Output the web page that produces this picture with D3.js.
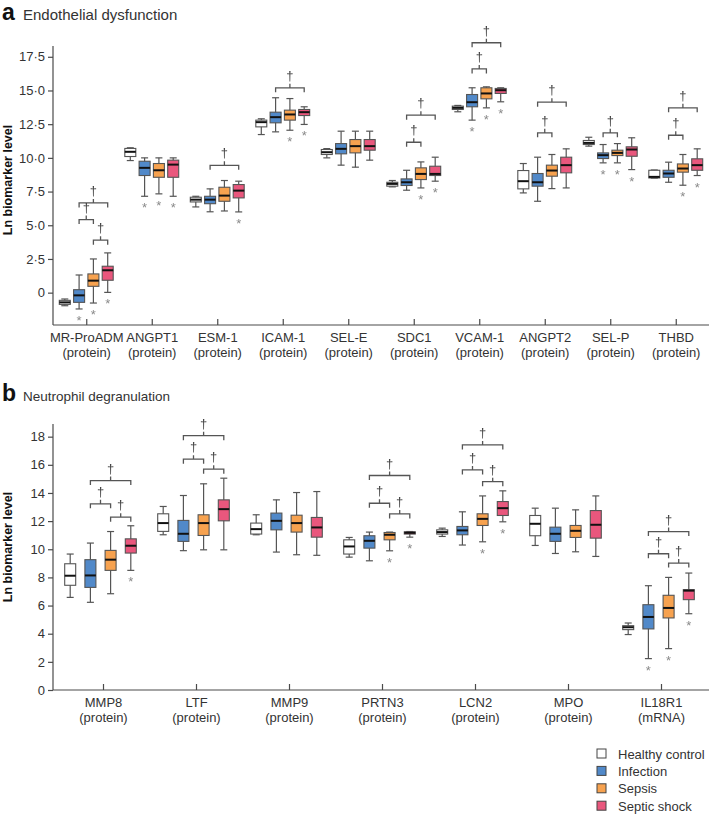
<!DOCTYPE html>
<html><head><meta charset="utf-8">
<script src="https://cdn.jsdelivr.net/npm/d3@7/dist/d3.min.js"></script>
<style>
body{margin:0;background:#fff;}
svg{display:block;font-family:"Liberation Sans",Arial,sans-serif;}
.dag,.ast{filter:grayscale(1);}
</style></head>
<body><svg id="c" width="709" height="814"></svg>
<script>
// ---------- shared ----------
const groups = ["Healthy control", "Infection", "Sepsis", "Septic shock"];
const groupColors = ["#ffffff", "#5189c9", "#f7a24f", "#e9577d"];

// ---------- panel a: Endothelial dysfunction ----------
const catsA = ["MR-ProADM","ANGPT1","ESM-1","ICAM-1","SEL-E","SDC1","VCAM-1","ANGPT2","SEL-P","THBD"];
const subA = ["(protein)","(protein)","(protein)","(protein)","(protein)","(protein)","(protein)","(protein)","(protein)","(protein)"];
const ticksA = [0, 2.5, 5, 7.5, 10, 12.5, 15, 17.5];
// each entry: [min, q1, median, q3, max]
const healthyA = [
  [-0.97,-0.87,-0.72,-0.57,-0.47],
  [9.8,10.1,10.45,10.7,10.75],
  [6.36,6.73,6.9,7.08,7.15],
  [11.73,12.3,12.65,12.8,12.9],
  [10.0,10.25,10.42,10.62,10.69],
  [7.85,7.9,8.07,8.19,8.32],
  [13.42,13.59,13.71,13.84,13.89],
  [7.4,7.7,8.27,9.06,9.58],
  [10.87,10.99,11.11,11.29,11.53],
  [8.5,8.51,8.59,9.08,9.1]
];
const infectionA = [
  [-1.21,-0.72,-0.2,0.22,1.31],
  [7.15,8.69,9.26,9.75,10.0],
  [6.0,6.6,6.9,7.15,7.7],
  [11.93,12.6,13.02,13.39,14.46],
  [9.46,10.3,10.67,11.06,11.98],
  [7.6,7.95,8.19,8.44,9.08],
  [12.8,13.79,14.13,14.7,15.2],
  [6.78,7.9,8.19,8.84,10.05],
  [9.63,9.95,10.2,10.37,10.99],
  [8.19,8.56,8.84,9.08,9.68]
];
const sepsisA = [
  [-0.77,0.47,0.89,1.39,2.5],
  [7.33,8.56,9.08,9.58,10.0],
  [6.06,6.78,7.2,7.82,8.32],
  [12.05,12.8,13.22,13.54,14.4],
  [9.31,10.37,10.87,11.36,11.98],
  [7.77,8.39,8.81,9.26,9.7],
  [13.71,14.38,14.78,15.2,15.27],
  [7.72,8.64,9.06,9.46,10.25],
  [9.63,10.17,10.37,10.57,11.06],
  [7.97,8.94,9.21,9.55,10.25]
];
const shockA = [
  [0.02,0.92,1.66,1.96,2.95],
  [7.15,8.56,9.5,9.83,10.0],
  [5.99,7.03,7.57,8.02,8.27],
  [12.48,13.14,13.39,13.59,13.79],
  [9.83,10.57,10.87,11.36,11.98],
  [8.27,8.69,8.81,9.38,10.05],
  [14.16,14.78,15.02,15.15,15.2],
  [7.77,8.89,9.46,10.05,10.67],
  [9.13,10.12,10.62,10.82,11.49],
  [8.69,9.08,9.46,9.93,10.67]
];
// group indices marked with * (vs healthy control)
const starsA = [[1,2,3],[1,2,3],[3],[2,3],[],[2,3],[1,2,3],[],[1,2,3],[2,3]];
// † brackets: [category, from group, to group, level]
const bracketsA = [
  [0,1,3,6.66],[0,1,2,5.42],[0,2,3,3.89],
  [2,1,3,9.45],
  [3,1,3,15.2],
  [5,1,3,13.17],[5,1,2,11.16],
  [6,1,3,18.54],[6,1,2,16.6],
  [7,1,3,14.13],[7,1,2,11.86],
  [8,1,2,11.86],
  [9,1,3,13.71],[9,1,2,11.68]
];

// ---------- panel b: Neutrophil degranulation ----------
const catsB = ["MMP8","LTF","MMP9","PRTN3","LCN2","MPO","IL18R1"];
const subB = ["(protein)","(protein)","(protein)","(protein)","(protein)","(protein)","(mRNA)"];
const ticksB = [0,2,4,6,8,10,12,14,16,18];
const healthyB = [
  [6.58,7.44,8.12,8.97,9.66],
  [11.03,11.27,11.86,12.52,13.04],
  [11.03,11.08,11.43,11.86,12.45],
  [9.44,9.66,10.2,10.67,10.84],
  [10.91,11.08,11.22,11.38,11.5],
  [10.27,10.96,11.81,12.4,12.92],
  [3.94,4.29,4.46,4.57,4.76]
];
const infectionB = [
  [6.23,7.29,8.14,9.26,10.44],
  [9.9,10.56,11.1,12.05,13.82],
  [9.8,11.38,12.02,12.57,13.51],
  [9.18,10.08,10.6,10.96,11.22],
  [10.3,11.03,11.34,11.62,12.66],
  [9.7,10.56,11.1,11.57,12.92],
  [2.23,4.34,5.19,6.06,7.41]
];
const sepsisB = [
  [6.84,8.5,9.26,9.92,11.26],
  [9.96,10.98,11.86,12.45,14.65],
  [9.61,11.22,11.86,12.42,14.03],
  [9.89,10.67,11.03,11.19,11.22],
  [10.53,11.69,12.16,12.52,13.79],
  [9.82,10.84,11.31,11.69,12.8],
  [2.94,5.12,5.83,6.73,8.0]
];
const shockB = [
  [8.5,9.73,10.25,10.74,11.67],
  [9.96,12.02,12.85,13.51,15.05],
  [9.57,10.86,11.55,12.26,14.1],
  [10.86,11.08,11.17,11.24,11.26],
  [11.95,12.4,12.92,13.39,14.15],
  [9.49,10.79,11.74,12.75,13.79],
  [5.42,6.42,7.06,7.13,8.31]
];
const starsB = [[3],[],[],[2,3],[2,3],[],[1,2,3]];
const bracketsB = [
  [0,1,3,14.88],[0,1,2,13.23],[0,2,3,12.28],
  [1,1,3,18.07],[1,1,2,16.4],[1,2,3,15.69],
  [3,1,3,15.24],[3,1,2,13.27],[3,2,3,12.51],
  [4,1,3,17.41],[4,1,2,15.64],[4,2,3,14.8],
  [6,1,3,11.26],[6,1,2,9.68],[6,2,3,9.02]
];

// ---------- drawing ----------
const svg = d3.select("#c");
const AX = "#4a4a4a", TXT = "#333";

function drawPanel(cfg) {
  const g = svg.append("g");
  const x = d3.scaleBand().domain(cfg.cats).range(cfg.xRange).padding(0);
  const y = d3.scaleLinear().domain(cfg.yDomain).range(cfg.yRange);
  const series = [cfg.healthy, cfg.infection, cfg.sepsis, cfg.shock];
  const gx = (ci, gi) => x(cfg.cats[ci]) + x.bandwidth() / 2 + cfg.shift + (gi - 1.5) * cfg.step;

  // title
  g.append("text").attr("x", 2).attr("y", cfg.titleY).attr("font-size", 23).attr("font-weight", "bold").attr("fill", "#111").text(cfg.letter);
  g.append("text").attr("x", 23).attr("y", cfg.titleY).attr("font-size", cfg.titleSize).attr("fill", TXT).text(cfg.title);

  // y axis
  const yAxis = d3.axisLeft(y).tickValues(cfg.ticks).tickSize(5).tickPadding(3).tickFormat(cfg.fmt);
  const ya = g.append("g").attr("transform", `translate(${cfg.axisX},0)`).call(yAxis);
  ya.select(".domain").remove();
  ya.selectAll("line").attr("stroke", AX).attr("stroke-width", 1.2);
  ya.selectAll("text").attr("font-size", 13).attr("fill", TXT).attr("font-family", "Liberation Sans, Arial, sans-serif");
  g.append("line").attr("x1", cfg.axisX).attr("x2", cfg.axisX)
    .attr("y1", y(cfg.yDomain[1])).attr("y2", y(cfg.yDomain[0])).attr("stroke", AX).attr("stroke-width", 1.2);

  // x axis
  const xAxis = d3.axisBottom(x).tickSize(-6).tickFormat("");
  const xa = g.append("g").attr("transform", `translate(0,${y(cfg.yDomain[0])})`).call(xAxis);
  xa.select(".domain").remove();
  xa.selectAll("line").attr("stroke", AX).attr("stroke-width", 1.2);
  g.append("line").attr("x1", cfg.axisX).attr("x2", 709)
    .attr("y1", y(cfg.yDomain[0])).attr("y2", y(cfg.yDomain[0])).attr("stroke", AX).attr("stroke-width", 1.2);
  cfg.cats.forEach((c, i) => {
    const cx = x(c) + x.bandwidth() / 2;
    const t = g.append("text").attr("text-anchor", "middle").attr("font-size", 13).attr("fill", TXT);
    t.append("tspan").attr("x", cx).attr("y", y(cfg.yDomain[0]) + cfg.lab1).text(c);
    t.append("tspan").attr("x", cx).attr("y", y(cfg.yDomain[0]) + cfg.lab2).text(cfg.subs[i]);
  });

  // y label
  g.append("text").attr("transform", `translate(${cfg.ylabX},${cfg.ylabY}) rotate(-90)`)
    .attr("text-anchor", "middle").attr("font-size", 12.5).attr("font-weight", "bold").attr("fill", "#111")
    .text("Ln biomarker level");

  // boxes
  const bw = 11, cw = 7;
  series.forEach((ser, gi) => {
    ser.forEach((s, ci) => {
      const cx = gx(ci, gi);
      const [mn, q1, md, q3, mx] = s;
      const bg = g.append("g");
      bg.append("line").attr("x1", cx).attr("x2", cx).attr("y1", y(mx)).attr("y2", y(mn)).attr("stroke", "#555").attr("stroke-width", 1.2);
      [mn, mx].forEach(v => bg.append("line").attr("x1", cx - cw / 2).attr("x2", cx + cw / 2).attr("y1", y(v)).attr("y2", y(v)).attr("stroke", "#555").attr("stroke-width", 1.2));
      bg.append("rect").attr("x", cx - bw / 2).attr("width", bw).attr("y", y(q3)).attr("height", Math.max(1, y(q1) - y(q3)))
        .attr("fill", groupColors[gi]).attr("stroke", "#555").attr("stroke-width", 1.1);
      bg.append("line").attr("x1", cx - bw / 2).attr("x2", cx + bw / 2).attr("y1", y(md)).attr("y2", y(md)).attr("stroke", "#111").attr("stroke-width", 2);
    });
  });

  // asterisks
  cfg.stars.forEach((list, ci) => {
    list.forEach(gi => {
      const s = series[gi][ci];
      g.append("text").attr("class", "ast").attr("x", gx(ci, gi)).attr("y", y(s[0]) + 16).attr("text-anchor", "middle")
        .attr("font-size", 13).attr("fill", "#8a8a8a").text("*");
    });
  });

  // brackets
  cfg.brackets.forEach(([ci, a, b, lv]) => {
    const x1 = gx(ci, a), x2 = gx(ci, b), yb = y(lv), xm = (x1 + x2) / 2;
    g.append("path").attr("d", `M${x1},${yb + 4.5}V${yb}H${x2}V${yb + 4.5}M${xm},${yb}V${yb - 4}`)
      .attr("fill", "none").attr("stroke", "#555").attr("stroke-width", 1.3);
    g.append("text").attr("class", "dag").attr("x", xm).attr("y", yb - 8).attr("text-anchor", "middle")
      .attr("font-size", 13).attr("fill", "#444").text("†");
  });
}

const fmtA = d => d === 0 ? "0" : d3.format(".1f")(d).replace(".", "·");

drawPanel({
  letter: "a", title: "Endothelial dysfunction", titleY: 20, titleSize: 15,
  cats: catsA, subs: subA, ticks: ticksA, fmt: fmtA,
  healthy: healthyA, infection: infectionA, sepsis: sepsisA, shock: shockA,
  stars: starsA, brackets: bracketsA,
  xRange: [54, 709], yDomain: [-2.4, 18.3], yRange: [325, 46], axisX: 53,
  step: 14.3, shift: -0.5, lab1: 17, lab2: 32, ylabX: 12, ylabY: 180
});
drawPanel({
  letter: "b", title: "Neutrophil degranulation", titleY: 401, titleSize: 13.5,
  cats: catsB, subs: subB, ticks: ticksB, fmt: d3.format("d"),
  healthy: healthyB, infection: infectionB, sepsis: sepsisB, shock: shockB,
  stars: starsB, brackets: bracketsB,
  xRange: [57, 708], yDomain: [0, 18.9], yRange: [690, 424], axisX: 53,
  step: 20.2, shift: -3, lab1: 17, lab2: 32, ylabX: 12, ylabY: 547
});

// legend
const leg = svg.append("g").attr("transform", "translate(597,754)");
groups.forEach((gname, i) => {
  const r = leg.append("g").attr("transform", `translate(0,${i * 17.4})`);
  r.append("rect").attr("x", 0).attr("y", -5).attr("width", 9).attr("height", 9)
    .attr("fill", groupColors[i]).attr("stroke", "#444").attr("stroke-width", 1);
  r.append("text").attr("x", 21).attr("y", 4.5).attr("font-size", 13).attr("fill", TXT).text(gname);
});
</script></body></html>
